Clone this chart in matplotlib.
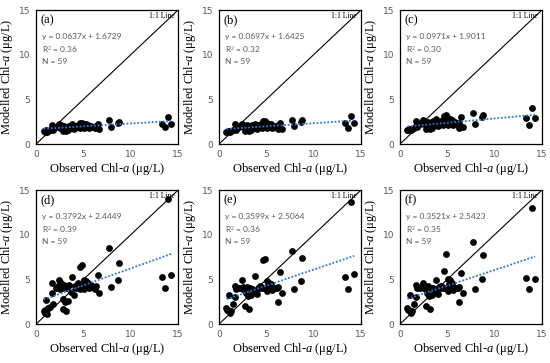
import numpy as np
import matplotlib
matplotlib.use("Agg")
import matplotlib.pyplot as plt

plt.rcParams['mathtext.fontset'] = 'custom'
plt.rcParams['mathtext.rm'] = 'Liberation Serif'
plt.rcParams['mathtext.it'] = 'Liberation Serif:italic'

# observed Chl-a (shared by all panels)
observed = [0.8, 0.9, 1.0, 1.1, 1.2, 1.3, 1.5, 1.7, 1.7, 1.8,
            2.1, 2.3, 2.4, 2.6, 2.7, 2.8, 2.9, 3.0, 3.1, 3.2,
            3.3, 3.5, 3.7, 3.8, 4.0, 4.1, 4.2, 4.4, 4.6, 4.7,
            4.8, 4.9, 5.0, 5.1, 5.1, 5.2, 5.3, 5.4, 5.5, 5.6,
            5.8, 5.9, 6.1, 6.2, 6.3, 6.5, 6.7, 3.4, 4.3, 7.7,
            7.9, 8.7, 8.8, 13.3, 13.6, 14.0, 14.3, 2.5, 4.5]

model_a = [1.5, 1.4, 1.5, 1.6, 1.4, 1.5, 1.6, 2.1, 1.7, 1.6,
           1.9, 2.0, 2.2, 2.1, 1.9, 1.5, 1.7, 2.0, 1.6, 1.5,
           1.9, 2.0, 1.8, 2.2, 1.7, 2.0, 1.9, 2.1, 1.8, 2.4,
           1.9, 2.4, 2.0, 2.3, 1.8, 2.1, 2.2, 1.9, 2.1, 1.8,
           2.0, 1.9, 1.9, 1.8, 2.0, 2.3, 1.7, 1.6, 2.0, 2.7,
           1.9, 2.4, 2.5, 2.2, 1.9, 3.0, 2.3, 1.8, 2.0]

model_b = [1.4, 1.4, 1.5, 1.5, 1.4, 1.5, 1.6, 2.2, 1.7, 1.6,
           1.9, 2.1, 2.3, 2.1, 2.0, 1.5, 1.7, 2.1, 1.6, 1.5,
           2.0, 2.1, 1.8, 2.3, 1.7, 2.1, 1.9, 2.2, 1.8, 2.6,
           1.9, 2.6, 2.1, 2.4, 1.8, 2.2, 2.3, 1.9, 2.2, 1.8,
           2.0, 1.9, 1.9, 1.7, 2.1, 2.4, 1.7, 1.6, 2.1, 2.7,
           2.0, 2.5, 2.7, 2.4, 1.8, 3.2, 2.4, 1.9, 2.1]

model_c = [1.6, 1.6, 1.7, 1.7, 1.6, 1.7, 1.8, 2.6, 2.0, 1.9,
           2.3, 2.5, 2.7, 2.6, 2.3, 1.7, 1.9, 2.5, 1.8, 1.7,
           2.4, 2.6, 2.1, 2.8, 2.0, 2.5, 2.3, 2.6, 2.1, 3.1,
           2.3, 3.3, 2.5, 2.9, 2.1, 2.6, 2.8, 2.3, 2.7, 2.1,
           2.5, 2.3, 2.3, 1.8, 2.4, 3.0, 1.9, 1.8, 2.5, 3.5,
           2.3, 3.0, 3.3, 2.9, 2.1, 4.0, 2.9, 2.2, 2.6]

model_d = [1.5, 1.3, 1.6, 2.7, 1.1, 1.8, 1.9, 4.6, 3.5, 2.3,
           4.1, 4.3, 5.0, 4.6, 4.0, 1.7, 2.8, 4.4, 2.5, 1.5,
           4.0, 4.4, 3.6, 5.3, 3.3, 4.3, 4.1, 4.6, 3.9, 6.4,
           4.0, 6.6, 4.3, 4.9, 3.9, 4.5, 4.8, 4.2, 4.6, 4.0,
           4.4, 4.2, 4.0, 3.9, 4.3, 5.5, 3.5, 2.6, 4.3, 8.5,
           4.2, 5.0, 6.8, 5.3, 4.1, 14.0, 5.5, 3.9, 4.4]

model_e = [1.8, 1.6, 1.6, 3.3, 1.2, 1.5, 2.3, 4.3, 3.0, 3.9,
           4.0, 4.1, 4.9, 4.2, 3.8, 2.0, 3.5, 4.2, 3.1, 1.7,
           4.0, 3.9, 3.7, 5.4, 3.4, 4.1, 4.0, 4.2, 4.0, 7.2,
           4.1, 7.3, 4.1, 4.8, 3.7, 4.4, 4.6, 4.0, 4.5, 3.8,
           4.1, 4.0, 4.0, 2.5, 4.2, 5.8, 3.5, 3.3, 4.3, 8.2,
           3.9, 4.8, 7.4, 5.3, 3.9, 13.7, 5.6, 4.0, 4.2]

model_f = [1.8, 1.6, 1.6, 3.3, 1.2, 1.5, 2.3, 4.4, 3.0, 4.0,
           4.1, 4.2, 4.6, 4.3, 3.9, 2.0, 3.5, 4.3, 3.1, 1.7,
           4.0, 4.0, 3.7, 4.9, 3.4, 4.2, 4.0, 4.3, 4.0, 6.0,
           4.1, 7.9, 4.1, 5.1, 3.7, 4.5, 4.9, 4.0, 4.6, 3.8,
           4.1, 4.0, 4.0, 2.5, 4.2, 5.7, 3.5, 3.3, 4.3, 9.2,
           3.9, 5.1, 7.7, 5.2, 3.9, 13.0, 5.1, 4.0, 4.2]

panel_labels = ['(a)', '(b)', '(c)', '(d)', '(e)', '(f)']
slopes = [0.0637, 0.0697, 0.0971, 0.3792, 0.3599, 0.3521]
intercepts = [1.6729, 1.6425, 1.9011, 2.4449, 2.5064, 2.5423]
r2 = ['0.36', '0.32', '0.30', '0.39', '0.36', '0.35']
models = [model_a, model_b, model_c, model_d, model_e, model_f]

fig = plt.figure(figsize=(5.5, 3.63), dpi=100)
lefts = [0.0655, 0.398, 0.727]
bottoms = [0.603, 0.107]
w, h = 0.258, 0.369

obs = np.array(observed)
gray = '#595959'
for i in range(6):
    ax = fig.add_axes([lefts[i % 3], bottoms[i // 3], w, h])
    ax.plot([0, 15], [0, 15], color='black', lw=0.8, zorder=1)
    ax.scatter(obs, models[i], s=24, color='black', zorder=3, linewidths=0)
    xf = np.array([obs.min(), obs.max()])
    ax.plot(xf, slopes[i] * xf + intercepts[i], color='#2E75D6', lw=1.3,
            ls=(0, (1, 1)), zorder=4)
    ax.set_xlim(0, 15)
    ax.set_ylim(0, 15)
    ax.set_xticks([0, 5, 10, 15])
    ax.set_yticks([0, 5, 10, 15])
    ax.tick_params(length=0, labelsize=6.5, labelcolor=gray, pad=4)
    for sp in ax.spines.values():
        sp.set_linewidth(0.9)
    ax.set_xlabel(r'Observed Chl-$a$ ($\mathrm{\mu}$g/L)', fontsize=9,
                  family='Liberation Serif', labelpad=2)
    ax.set_ylabel(r'Modelled Chl-$a$ ($\mathrm{\mu}$g/L)', fontsize=9,
                  family='Liberation Serif', labelpad=3)
    ax.text(0.5, 13.5, panel_labels[i], fontsize=9, family='Liberation Serif')
    ax.text(14.6, 14.1, '1:1 Line', fontsize=5.5, family='Liberation Serif',
            ha='right')
    eq = 'y = %.4fx + %.4f\nR$^2$ = %s\nN = 59' % (slopes[i], intercepts[i], r2[i])
    ax.text(0.6, 12.4, eq, fontsize=6, family='Lato', color=gray,
            va='top', linespacing=1.45)

fig.savefig('out.png', dpi=100)
